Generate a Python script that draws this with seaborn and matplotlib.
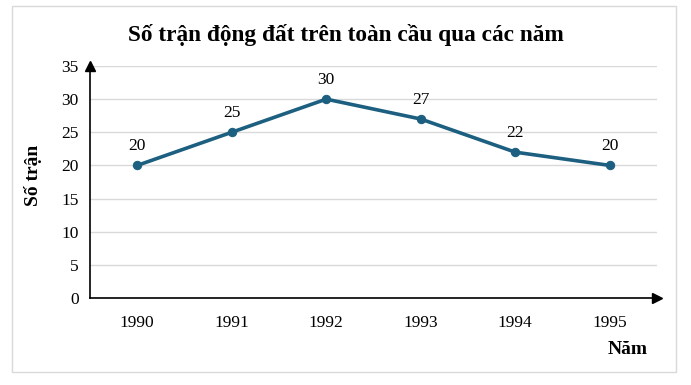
import pandas as pd
import matplotlib.pyplot as plt
import seaborn as sns
from matplotlib.patches import Rectangle

# Dữ liệu
nam = ["1990", "1991", "1992", "1993", "1994", "1995"]
so_tran = [20, 25, 30, 27, 22, 20]

df = pd.DataFrame({"Năm": nam, "Số trận": so_tran})

sns.set_style("white")
plt.rcParams["font.family"] = ["Liberation Serif", "DejaVu Serif"]
plt.rcParams["text.color"] = "black"
plt.rcParams["axes.labelcolor"] = "black"
plt.rcParams["xtick.color"] = "black"
plt.rcParams["ytick.color"] = "black"

fig = plt.figure(figsize=(6.91, 3.85), dpi=100)
ax = fig.add_axes([0.1302, 0.226, 0.8206, 0.6026])

mau = "#1d5f80"
sns.lineplot(data=df, x="Năm", y="Số trận", ax=ax, color=mau, linewidth=2.6,
             marker="o", markersize=6, markeredgecolor=mau, sort=False)

for i, v in enumerate(so_tran):
    ax.annotate(str(v), (i, v), xytext=(0, 8), textcoords="offset points",
                ha="center", va="bottom", fontsize=12.5)

ax.set_xlim(-0.5, 5.5)
ax.set_ylim(0, 35)
ax.set_yticks(range(0, 36, 5))
ax.yaxis.grid(True, color="#d9d9d9", linewidth=1)
ax.set_axisbelow(True)
ax.tick_params(axis="both", labelsize=12.5, length=0, pad=8)
ax.tick_params(axis="x", pad=12)

for s in ["top", "right"]:
    ax.spines[s].set_visible(False)
for s in ["left", "bottom"]:
    ax.spines[s].set_color("black")
    ax.spines[s].set_linewidth(1.2)

# mũi tên ở đầu trục
ax.plot(1, 0, ">", color="black", markersize=7, transform=ax.transAxes, clip_on=False)
ax.plot(0, 1, "^", color="black", markersize=7, transform=ax.transAxes, clip_on=False)

ax.set_xlabel("")
ax.set_ylabel("")
fig.text(33 / 691, 1 - 175 / 385, "Số trận", ha="center", va="center",
         rotation=90, fontsize=14, fontweight="bold")
fig.text(628 / 691, 1 - 349 / 385, "Năm", ha="center", va="center",
         fontsize=14, fontweight="bold")
fig.text(0.5, 1 - 35 / 385, "Số trận động đất trên toàn cầu qua các năm",
         ha="center", va="center", fontsize=16.8, fontweight="bold")

fig.patches.append(Rectangle((12 / 691, 1 - 372 / 385), 664 / 691, 366 / 385,
                             transform=fig.transFigure, fill=False,
                             edgecolor="#d9d9d9", linewidth=1))

fig.savefig("out.png", dpi=100)
